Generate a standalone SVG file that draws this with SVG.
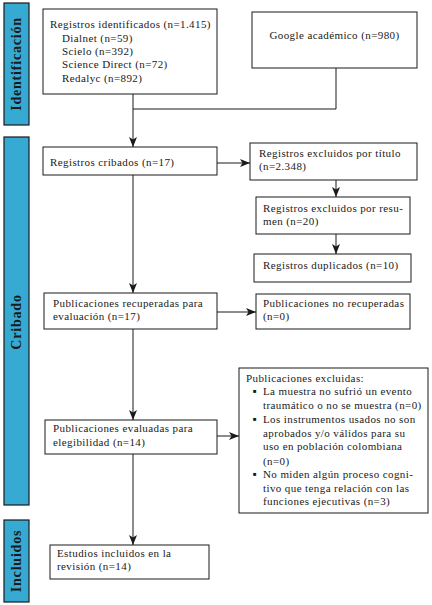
<svg xmlns="http://www.w3.org/2000/svg" width="432" height="605" viewBox="0 0 432 605">
<defs>
<style>
.bar{fill:#36aad2;stroke:#1a1a1a;stroke-width:1.2}
.bl{font-family:"Liberation Serif","DejaVu Serif",serif;font-weight:bold;font-size:14px;fill:#1a1a1a;text-anchor:middle;letter-spacing:0.8px}
.box{fill:#fff;stroke:#1a1a1a;stroke-width:1}
.t{font-family:"Liberation Serif","DejaVu Serif",serif;font-size:11px;fill:#1a1a1a;letter-spacing:0.4px}
.b{font-family:"Liberation Serif","DejaVu Serif",serif;font-size:6px;fill:#1a1a1a}
.ln{fill:none;stroke:#1a1a1a;stroke-width:1}
.ar{fill:none;stroke:#1a1a1a;stroke-width:1;marker-end:url(#ah)}
</style>
<marker id="ah" viewBox="0 0 10 8" refX="10" refY="4" markerWidth="10" markerHeight="8" markerUnits="userSpaceOnUse" orient="auto">
<path d="M0,0 L10,4 L0,8 L2.5,4 z" fill="#1a1a1a"/>
</marker>
</defs>
<rect width="432" height="605" fill="#fff"/>
<g id="bars">
<rect class="bar" x="4" y="3" width="25" height="122"/>
<text class="bl" transform="translate(21,64) rotate(-90)">Identificación</text>
<rect class="bar" x="4" y="137" width="25" height="368"/>
<text class="bl" transform="translate(21,322) rotate(-90)">Cribado</text>
<rect class="bar" x="4" y="520" width="25" height="82"/>
<text class="bl" transform="translate(21,561) rotate(-90)">Incluidos</text>
</g>
<g id="connectors">
<path class="ln" d="M133,94 V109 M336,68 V109 H133"/>
<path class="ar" d="M133,109 V147"/>
<path class="ar" d="M217,163 H250"/>
<path class="ar" d="M336,180 V197"/>
<path class="ar" d="M336,234 V254"/>
<path class="ar" d="M133,175 V293"/>
<path class="ar" d="M217,312 H256"/>
<path class="ar" d="M133,329 V420"/>
<path class="ar" d="M217,436 H239"/>
<path class="ar" d="M133,454 V545"/>
</g>
<g id="n_identificados">
<rect class="box" x="43" y="9" width="174" height="85"/>
<text class="t" x="50" y="28">Registros identificados (n=1.415)</text>
<text class="t" x="62" y="41.5">Dialnet (n=59)</text>
<text class="t" x="62" y="55">Scielo (n=392)</text>
<text class="t" x="62" y="68">Science Direct (n=72)</text>
<text class="t" x="62" y="81.5">Redalyc (n=892)</text>
</g>
<g id="n_google">
<rect class="box" x="252" y="12" width="165" height="56"/>
<text class="t" x="334.5" y="39" text-anchor="middle">Google académico (n=980)</text>
</g>
<g id="n_cribados">
<rect class="box" x="43" y="147" width="174" height="28"/>
<text class="t" x="50" y="166">Registros cribados (n=17)</text>
</g>
<g id="n_excl_titulo">
<rect class="box" x="250" y="143" width="167" height="37"/>
<text class="t" x="259" y="157">Registros excluidos por título</text>
<text class="t" x="259" y="170">(n=2.348)</text>
</g>
<g id="n_excl_resumen">
<rect class="box" x="256" y="197" width="154" height="37"/>
<text class="t" x="263" y="212">Registros excluidos por resu-</text>
<text class="t" x="263" y="225">men (n=20)</text>
</g>
<g id="n_duplicados">
<rect class="box" x="254" y="254" width="157" height="28"/>
<text class="t" x="263" y="269">Registros duplicados (n=10)</text>
</g>
<g id="n_recuperadas">
<rect class="box" x="44" y="293" width="173" height="36"/>
<text class="t" x="53" y="307">Publicaciones recuperadas para</text>
<text class="t" x="53" y="320">evaluación (n=17)</text>
</g>
<g id="n_no_recuperadas">
<rect class="box" x="256" y="294" width="154" height="35"/>
<text class="t" x="263" y="307">Publicaciones no recuperadas</text>
<text class="t" x="263" y="320">(n=0)</text>
</g>
<g id="n_evaluadas">
<rect class="box" x="45" y="420" width="172" height="34"/>
<text class="t" x="53" y="432">Publicaciones evaluadas para</text>
<text class="t" x="53" y="446">elegibilidad (n=14)</text>
</g>
<g id="n_excluidas">
<rect class="box" x="239" y="368" width="189" height="145"/>
<text class="t" x="246" y="382">Publicaciones excluidas:</text>
<text class="b" x="253" y="393">■</text>
<text class="t" x="263" y="395">La muestra no sufrió un evento</text>
<text class="t" x="263" y="409">traumático o no se muestra (n=0)</text>
<text class="b" x="253" y="421">■</text>
<text class="t" x="263" y="423">Los instrumentos usados no son</text>
<text class="t" x="263" y="437">aprobados y/o válidos para su</text>
<text class="t" x="263" y="450">uso en población colombiana</text>
<text class="t" x="263" y="465">(n=0)</text>
<text class="b" x="253" y="476">■</text>
<text class="t" x="263" y="478">No miden algún proceso cogni-</text>
<text class="t" x="263" y="492">tivo que tenga relación con las</text>
<text class="t" x="263" y="505">funciones ejecutivas (n=3)</text>
</g>
<g id="n_incluidos">
<rect class="box" x="50" y="545" width="159" height="34"/>
<text class="t" x="57" y="557">Estudios incluidos en la</text>
<text class="t" x="57" y="570">revisión (n=14)</text>
</g>
</svg>
